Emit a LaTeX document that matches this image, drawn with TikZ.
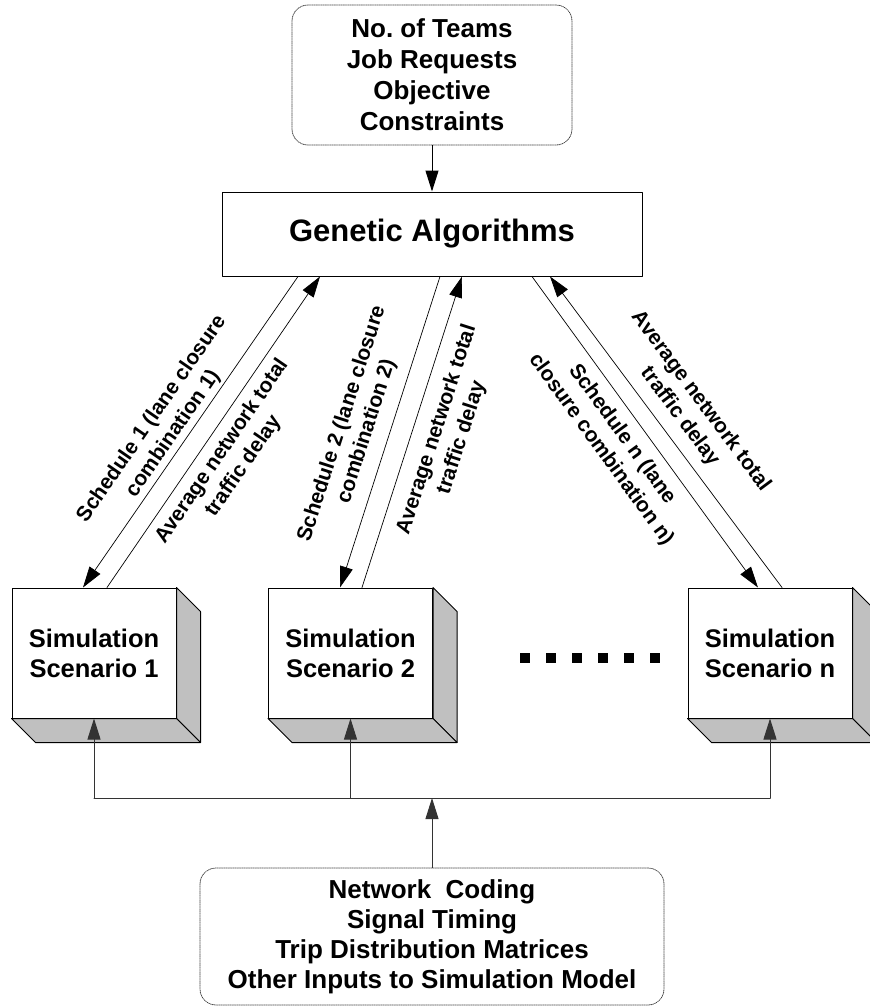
\documentclass[tikz,border=0pt]{standalone}
\usepackage{fontspec}
\setmainfont{Liberation Sans}
\usetikzlibrary{calc,arrows.meta}
\definecolor{cubeside}{RGB}{192,192,192}
\tikzset{
    txt/.style={
        font=\fontsize{26}{31}\selectfont\bfseries, align=center
    },
    inbox/.style={txt, draw=black!75, densely dotted, line width=0.8pt,
        rounded corners=16pt, inner sep=0pt},
    gabox/.style={draw, line width=1pt, font=\fontsize{31}{36}\selectfont\bfseries,
        minimum width=420pt, minimum height=84pt},
    simbox/.style={txt, font=\fontsize{25.5}{30}\selectfont\bfseries, draw,
        fill=white, line width=1pt, minimum width=164pt, minimum height=130pt,
        inner sep=0pt},
    cubeface/.style={fill=cubeside, draw, line width=1pt},
    arr/.style={line width=0.7pt, -{Triangle[length=21pt,width=13pt]}},
    lbl/.style={font=\fontsize{21}{26}\selectfont\bfseries, align=center,
        sloped, inner sep=3pt},
    bus/.style={line width=1pt, draw=black!80}
}
\frenchspacing

\begin{document}
\begin{tikzpicture}[x=1pt,y=-1pt,line cap=round,line join=round]
    \useasboundingbox (0,0) rectangle (870,1007);

% --- geometry (pixels of the reference, y grows downwards) ---
    \def\dep{24}                  % depth of the simulation blocks

% inputs and optimiser
    \node[inbox, minimum width=280pt, minimum height=140pt] (inputs) at (432,75)
        {No. of Teams\\Job Requests\\Objective\\Constraints};
    \node[gabox] (ga) at (432,234) {Genetic Algorithms};

% simulation blocks (front faces)
    \node[simbox] (sim1) at (94,653) {Simulation\\Scenario 1};
    \node[simbox] (sim2) at (350.5,653) {Simulation\\Scenario 2};
    \node[simbox] (simn) at (770,653) {Simulation\\Scenario n};

% shaded side and bottom of each block
    \foreach \s in {sim1,sim2,simn}{
        \filldraw[cubeface] (\s.north east) -- ++(\dep,\dep)
            -- ($(\s.south east)+(\dep,\dep)$) -- (\s.south east) -- cycle;
        \filldraw[cubeface] (\s.south west) -- ++(\dep,\dep)
            -- ($(\s.south east)+(\dep,\dep)$) -- (\s.south east) -- cycle;
    }

% dots between block 2 and block n
    \foreach \i in {0,...,5}
        \fill (520+26*\i,653) rectangle ++(10,10);

% simulation data
    \node[inbox, minimum width=464pt, minimum height=137pt,
        font=\fontsize{26}{30}\selectfont\bfseries] (data) at (432,936.5)
        {Network\ \ Coding\\Signal Timing\\Trip Distribution Matrices\\Other Inputs to Simulation Model};

% inputs into GA
    \draw[arr, line width=1pt] (inputs.south) -- (ga.north);

% schedules and delays
    \draw[arr] ([xshift=-134pt]ga.south) -- node[lbl, above, pos=.53]
        {Schedule 1 (lane closure\\combination 1)} ([xshift=-11pt]sim1.north);
    \draw[arr] ([xshift=13pt]sim1.north) -- node[lbl, below=5pt, pos=.47]
        {Average network total\\traffic delay} ([xshift=-112pt]ga.south);

    \draw[arr] ([xshift=8pt]ga.south) -- node[lbl, above=9pt, pos=.52]
        {Schedule 2 (lane closure\\combination 2)} ([xshift=-10.5pt]sim2.north);
    \draw[arr] ([xshift=11.5pt]sim2.north) -- node[lbl, below=10pt, pos=.53]
        {Average network total\\traffic delay} ([xshift=30pt]ga.south);

    \draw[arr] ([xshift=100pt]ga.south) -- node[lbl, below=7pt, pos=.47]
        {Schedule n (lane\\closure combination n)} ([xshift=-12pt]simn.north);
    \draw[arr] ([xshift=12pt]simn.north) -- node[lbl, above=7pt, pos=.51]
        {Average network total\\traffic delay} ([xshift=118pt]ga.south);

% data bus into the blocks
    \coordinate (bus) at (432,798);
    \draw[bus] (sim1 |- bus) -- (simn |- bus);
    \draw[arr, bus] (data.north) -- (bus);
    \foreach \s in {sim1,sim2,simn}
        \draw[arr, bus] (\s |- bus) -- (\s.south);

\end{tikzpicture}
\end{document}
